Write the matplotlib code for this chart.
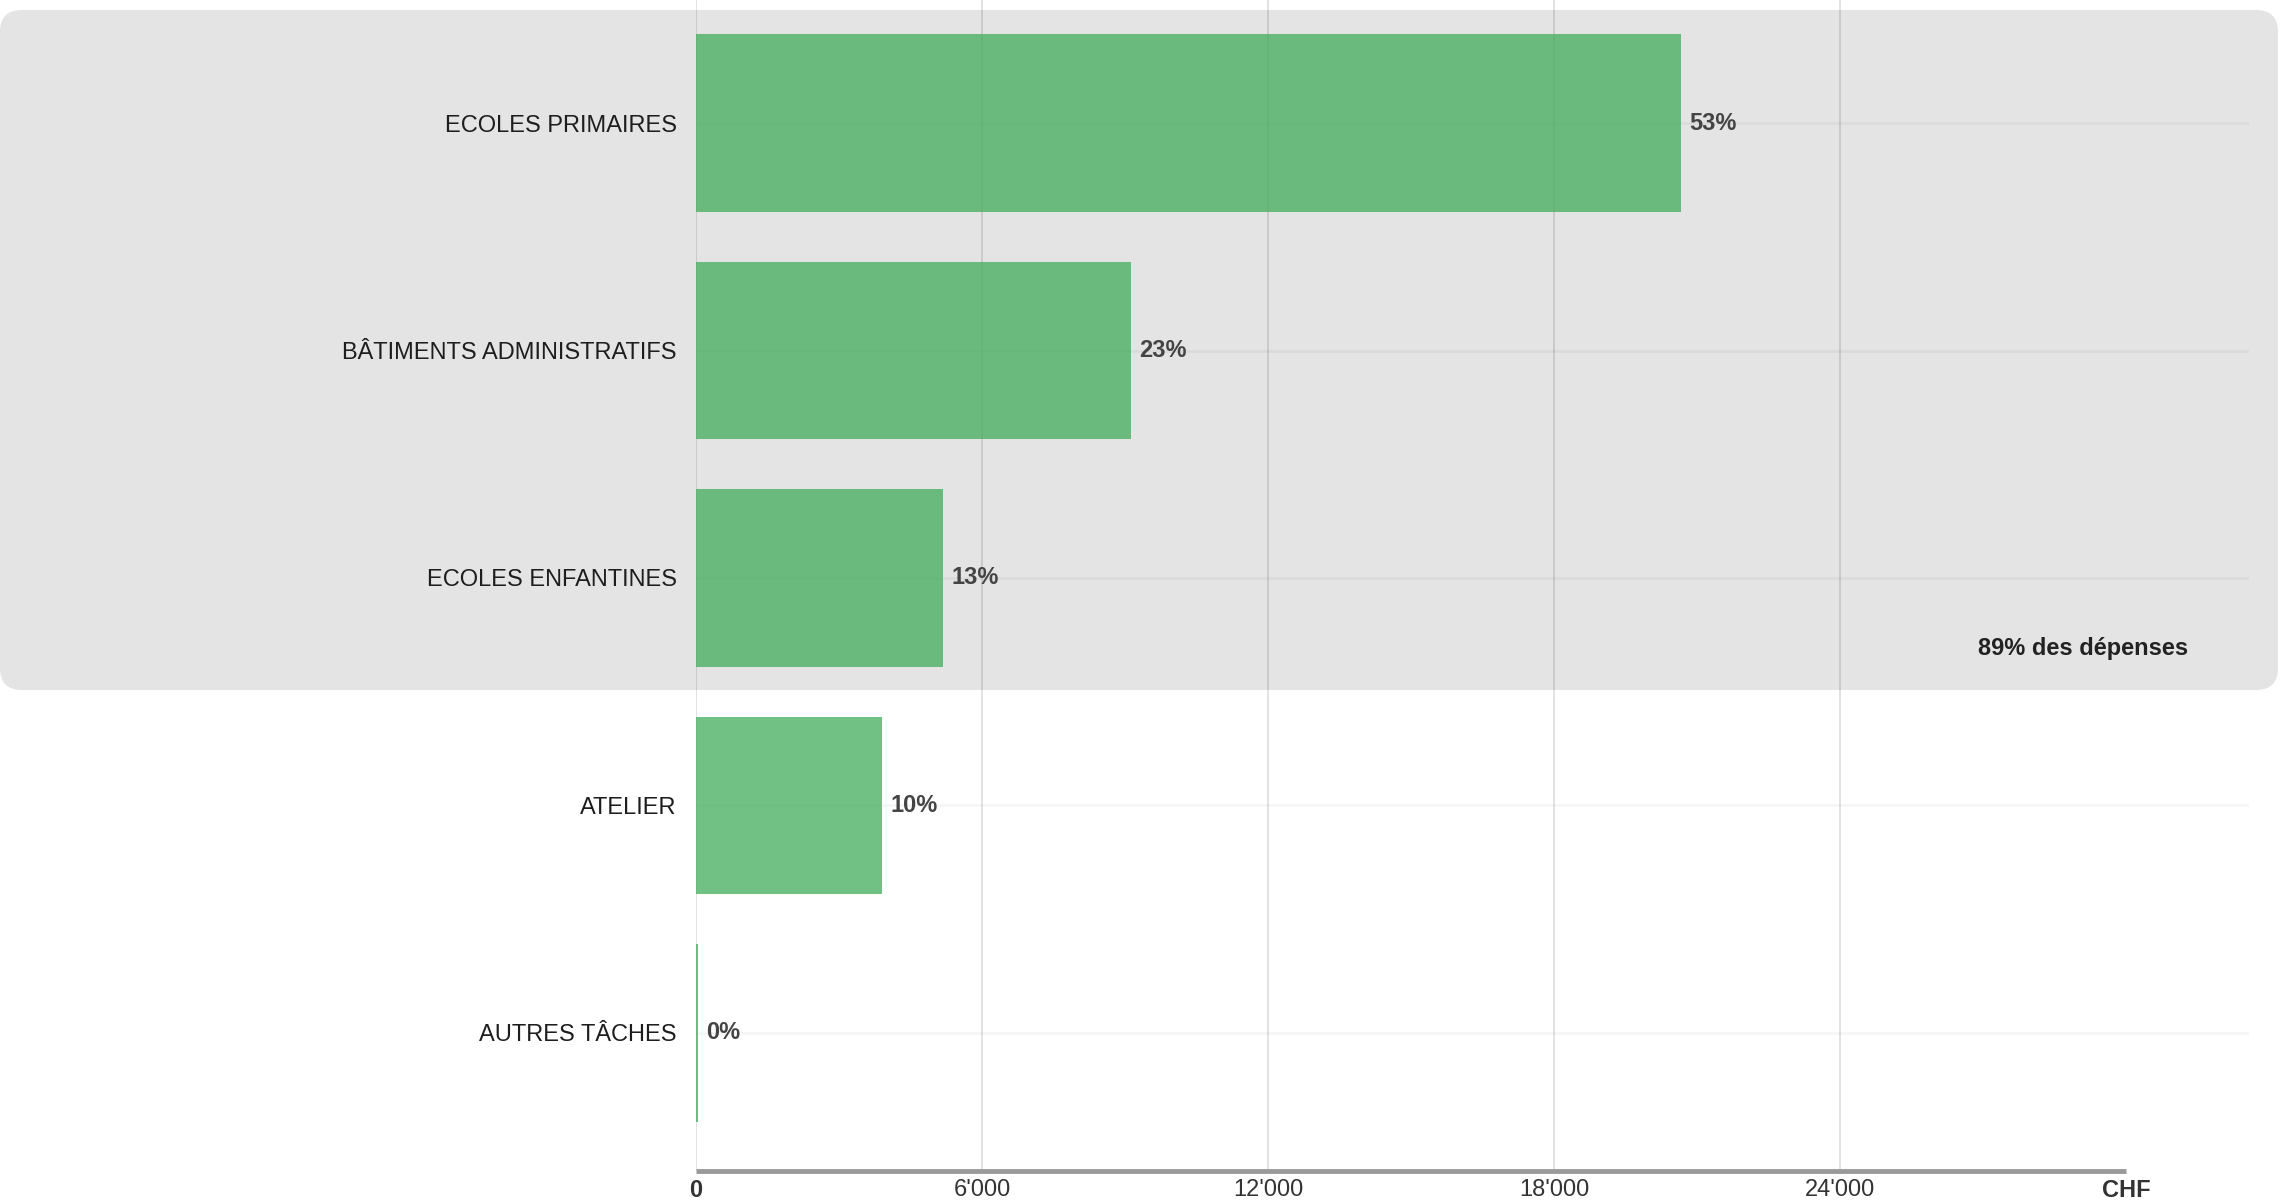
import matplotlib.pyplot as plt
from matplotlib.patches import FancyBboxPatch
from matplotlib.transforms import IdentityTransform

categories = ["ECOLES PRIMAIRES", "BÂTIMENTS ADMINISTRATIFS", "ECOLES ENFANTINES",
              "ATELIER", "AUTRES TÂCHES"]
values = [20670, 9130, 5190, 3910, 40]
pct_labels = ["53%", "23%", "13%", "10%", "0%"]
tick_values = [0, 6000, 12000, 18000, 24000, 30000]
tick_labels = ["0", "6'000", "12'000", "18'000", "24'000", "CHF"]
grid_values = [0, 6000, 12000, 18000, 24000]
highlight_text = "89% des dépenses"

plt.rcParams['font.family'] = ['Liberation Sans', 'DejaVu Sans']

fig = plt.figure(figsize=(22.82, 12.04), dpi=100)
fig.patch.set_facecolor('white')

# grey panel behind the first three categories (pixel coords)
panel = FancyBboxPatch((0, 514), 2278, 680,
                       boxstyle='round,pad=0,rounding_size=22',
                       transform=IdentityTransform(),
                       facecolor='#e4e4e4', edgecolor='none', zorder=-5)
fig.patches.append(panel)

ax = fig.add_axes([0.305, 0.0274, 0.6805, 0.9726])
ax.set_facecolor('none')
ax.set_zorder(1)

ypos = list(range(len(categories)))
ax.barh(ypos, values, height=0.78, color='#43ac5b', alpha=0.75, zorder=2)

ax.set_xlim(0, 32578)
ax.set_ylim(4.607, -0.541)

# grid lines
for g in grid_values:
    ax.axvline(g, color='black', alpha=0.12, lw=1.3, zorder=1)
for y in ypos:
    ax.axhline(y, color='black', alpha=0.035, lw=2, zorder=1)

# bottom axis line
ax.hlines(4.607, 0, 30000, color='#9a9a9a', lw=3.5, clip_on=False, zorder=3)

for s in ax.spines.values():
    s.set_visible(False)

ax.set_yticks(ypos)
ax.set_yticklabels(categories, fontsize=17, color='#1e1e1e')
ax.tick_params(axis='y', length=0, pad=14)

ax.set_xticks(tick_values)
ax.set_xticklabels(tick_labels, fontsize=17, color='#333333')
ax.tick_params(axis='x', length=0, pad=6)
for lbl in ax.get_xticklabels():
    if lbl.get_text() in ("0", "CHF"):
        lbl.set_fontweight('bold')

# value labels
for y, v, p in zip(ypos, values, pct_labels):
    ax.annotate(p, (v, y), xytext=(8, 0), textcoords='offset pixels',
                ha='left', va='center', fontsize=17, fontweight='bold',
                color='#444444', zorder=4)

fig.text(2188 / 2282, 1 - 648 / 1204, highlight_text, ha='right', va='center',
         fontsize=17, fontweight='bold', color='#222222')

fig.savefig('out.png', dpi=100)
